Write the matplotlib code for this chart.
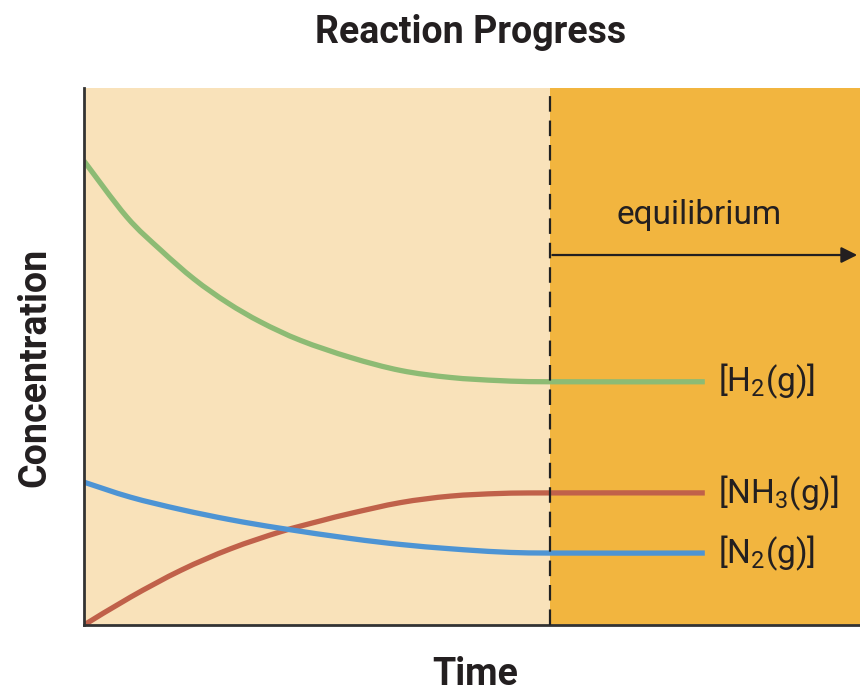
import matplotlib
matplotlib.use("Agg")
import matplotlib.pyplot as plt
from matplotlib.path import Path
from matplotlib.patches import PathPatch

plt.rcParams['font.family'] = ['Roboto', 'DejaVu Sans']
plt.rcParams['mathtext.fontset'] = 'custom'
plt.rcParams['mathtext.rm'] = 'Roboto'
plt.rcParams['mathtext.it'] = 'Roboto'

# Data (arbitrary time / concentration units)
h2_t = [0, 5.5, 9.9, 14.2, 18.5, 22.8, 27.9, 34.4, 40.8, 47.2, 53.7, 60, 80]
h2_c = [86.4, 76.0, 69.8, 64.4, 60.0, 56.4, 53.0, 49.8, 47.4, 46.1, 45.5, 45.3, 45.3]

n2_t = [0, 6.0, 12.5, 18.9, 25.4, 34.4, 40.8, 47.2, 53.7, 60, 80]
n2_c = [26.6, 23.8, 21.5, 19.6, 18.0, 16.1, 15.0, 14.2, 13.6, 13.4, 13.4]

nh3_t = [0, 6.0, 12.5, 18.9, 25.4, 30.5, 34.4, 40.8, 47.2, 53.7, 60, 80]
nh3_c = [0.0, 5.2, 10.2, 14.2, 17.4, 19.4, 20.8, 22.8, 24.0, 24.5, 24.6, 24.6]

eq_time = 60
labels = [r"[H$_2$(g)]", r"[NH$_3$(g)]", r"[N$_2$(g)]"]


def smooth_path(xs, ys):
    """Cubic Bezier path through the data points (Catmull-Rom tangents)."""
    pts = list(zip(xs, ys))
    verts = [pts[0]]
    codes = [Path.MOVETO]
    n = len(pts)
    for i in range(n - 1):
        p0 = pts[i - 1] if i > 0 else pts[i]
        p1 = pts[i]
        p2 = pts[i + 1]
        p3 = pts[i + 2] if i + 2 < n else pts[i + 1]
        c1 = (p1[0] + (p2[0] - p0[0]) / 6, p1[1] + (p2[1] - p0[1]) / 6)
        c2 = (p2[0] - (p3[0] - p1[0]) / 6, p2[1] - (p3[1] - p1[1]) / 6)
        verts += [c1, c2, p2]
        codes += [Path.CURVE4] * 3
    return Path(verts, codes)


fig = plt.figure(figsize=(8.6, 6.94), dpi=100)
ax = fig.add_axes([0.0977, 0.0994, 0.9023, 0.7738])
ax.set_xlim(0, 100)
ax.set_ylim(0, 100)

ax.axvspan(0, eq_time, color="#F9E2BA", zorder=0, lw=0)
ax.axvspan(eq_time, 100, color="#F2B53F", zorder=0, lw=0)
ax.axvline(eq_time, color="#222222", lw=1.6, dashes=(7, 4), zorder=3)

lw = 3.8
for t, c, col in [(h2_t, h2_c, "#8DBB74"), (nh3_t, nh3_c, "#C0614A"), (n2_t, n2_c, "#4D94D4")]:
    ax.add_patch(PathPatch(smooth_path(t, c), facecolor="none", edgecolor=col,
                           lw=lw, capstyle="butt", joinstyle="round", zorder=2))

ax.text(81.7, h2_c[-1], labels[0], fontsize=24, va="center", ha="left", color="#231F20")
ax.text(81.7, nh3_c[-1], labels[1], fontsize=24, va="center", ha="left", color="#231F20")
ax.text(81.7, n2_c[-1], labels[2], fontsize=24, va="center", ha="left", color="#231F20")

ax.annotate("", xy=(100, 68.9), xytext=(eq_time, 68.9),
            arrowprops=dict(arrowstyle="-|>", color="#231F20", lw=1.6, mutation_scale=24),
            annotation_clip=False)
ax.text(79.3, 76.3, "equilibrium", fontsize=24, ha="center", va="center", color="#231F20")

for s in ["top", "right"]:
    ax.spines[s].set_visible(False)
for s in ["left", "bottom"]:
    ax.spines[s].set_color("#333333")
    ax.spines[s].set_linewidth(2)
ax.set_xticks([])
ax.set_yticks([])

fig.text(0.547, 0.953, "Reaction Progress", fontsize=27, fontweight="bold",
         ha="center", va="center", color="#231F20")
fig.text(0.553, 0.028, "Time", fontsize=27, fontweight="bold",
         ha="center", va="center", color="#231F20")
fig.text(0.040, 0.470, "Concentration", fontsize=27, fontweight="bold",
         ha="center", va="center", rotation=90, color="#231F20")

fig.savefig("out.png", dpi=100)
